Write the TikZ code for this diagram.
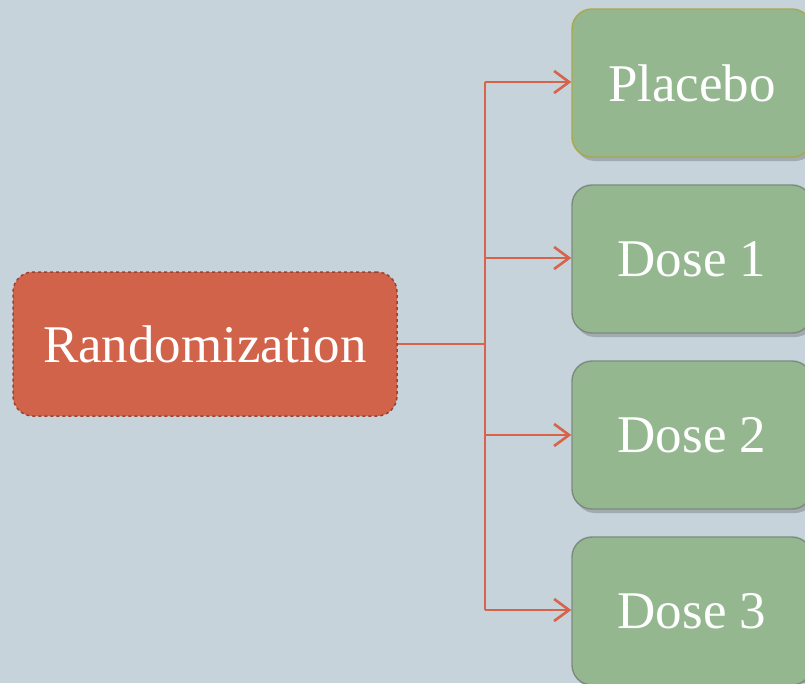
\documentclass[tikz,border=0pt]{standalone}
\usepackage{fontspec}
\setmainfont{Liberation Serif}
\usetikzlibrary{shadows,arrows.meta}
\definecolor{bgcol}{HTML}{C6D3DA}
\definecolor{redfill}{HTML}{D0634A}
\definecolor{rededge}{HTML}{9A4232}
\definecolor{greenfill}{HTML}{94B790}
\definecolor{greenedge}{HTML}{7E8A80}
\definecolor{olivedge}{HTML}{A9A84A}
\definecolor{linkcol}{HTML}{D6634A}
\begin{document}
\begin{tikzpicture}[x=1pt,y=-1pt,
  base/.style={rounded corners=20pt, inner sep=0pt, text=white,
    font=\fontsize{53}{62}\selectfont},
  startbox/.style={base, fill=redfill, draw=rededge, dashed, line width=1.5pt,
    minimum width=384pt, minimum height=144pt},
  armbox/.style={base, fill=greenfill, draw=greenedge, line width=1.4pt,
    minimum width=240pt, minimum height=148pt,
    drop shadow={shadow xshift=3pt, shadow yshift=-4pt, opacity=0.3, fill=black!70}},
  link/.style={draw=linkcol, line width=2.6pt},
  arrow/.style={link, -{Straight Barb[length=15pt, width=22pt, line width=2.6pt]}}
]
\fill[bgcol] (0,0) rectangle (805,683);
\useasboundingbox (0,0) rectangle (805,683);
\clip (0,0) rectangle (805,683);

\node[startbox] (rand) at (205,344) {Randomization};

\node[armbox, draw=olivedge] (placebo) at (692,83) {};
\node[armbox] (dose1) at (692,259) {};
\node[armbox] (dose2) at (692,435) {};
\node[armbox] (dose3) at (692,611) {};

\node[base] (tp) at (692,83) {Placebo};
\node[base] (t1) at (692,259) {Dose 1};
\node[base] (t2) at (692,435) {Dose 2};
\node[base] (t3) at (692,611) {Dose 3};

% trunk of the tree
\coordinate (fork) at (485,344);
\coordinate (top) at (485,82);
\coordinate (bottom) at (485,610);
\draw[link] (rand.east) -- (fork);
\draw[link] (top) -- (bottom);

\draw[arrow] (top) -- (placebo.west |- top);
\draw[arrow] (485,258) -- (dose1.west |- 0,258);
\draw[arrow] (485,435) -- (dose2.west |- 0,435);
\draw[arrow] (bottom) -- (dose3.west |- bottom);
\end{tikzpicture}
\end{document}
